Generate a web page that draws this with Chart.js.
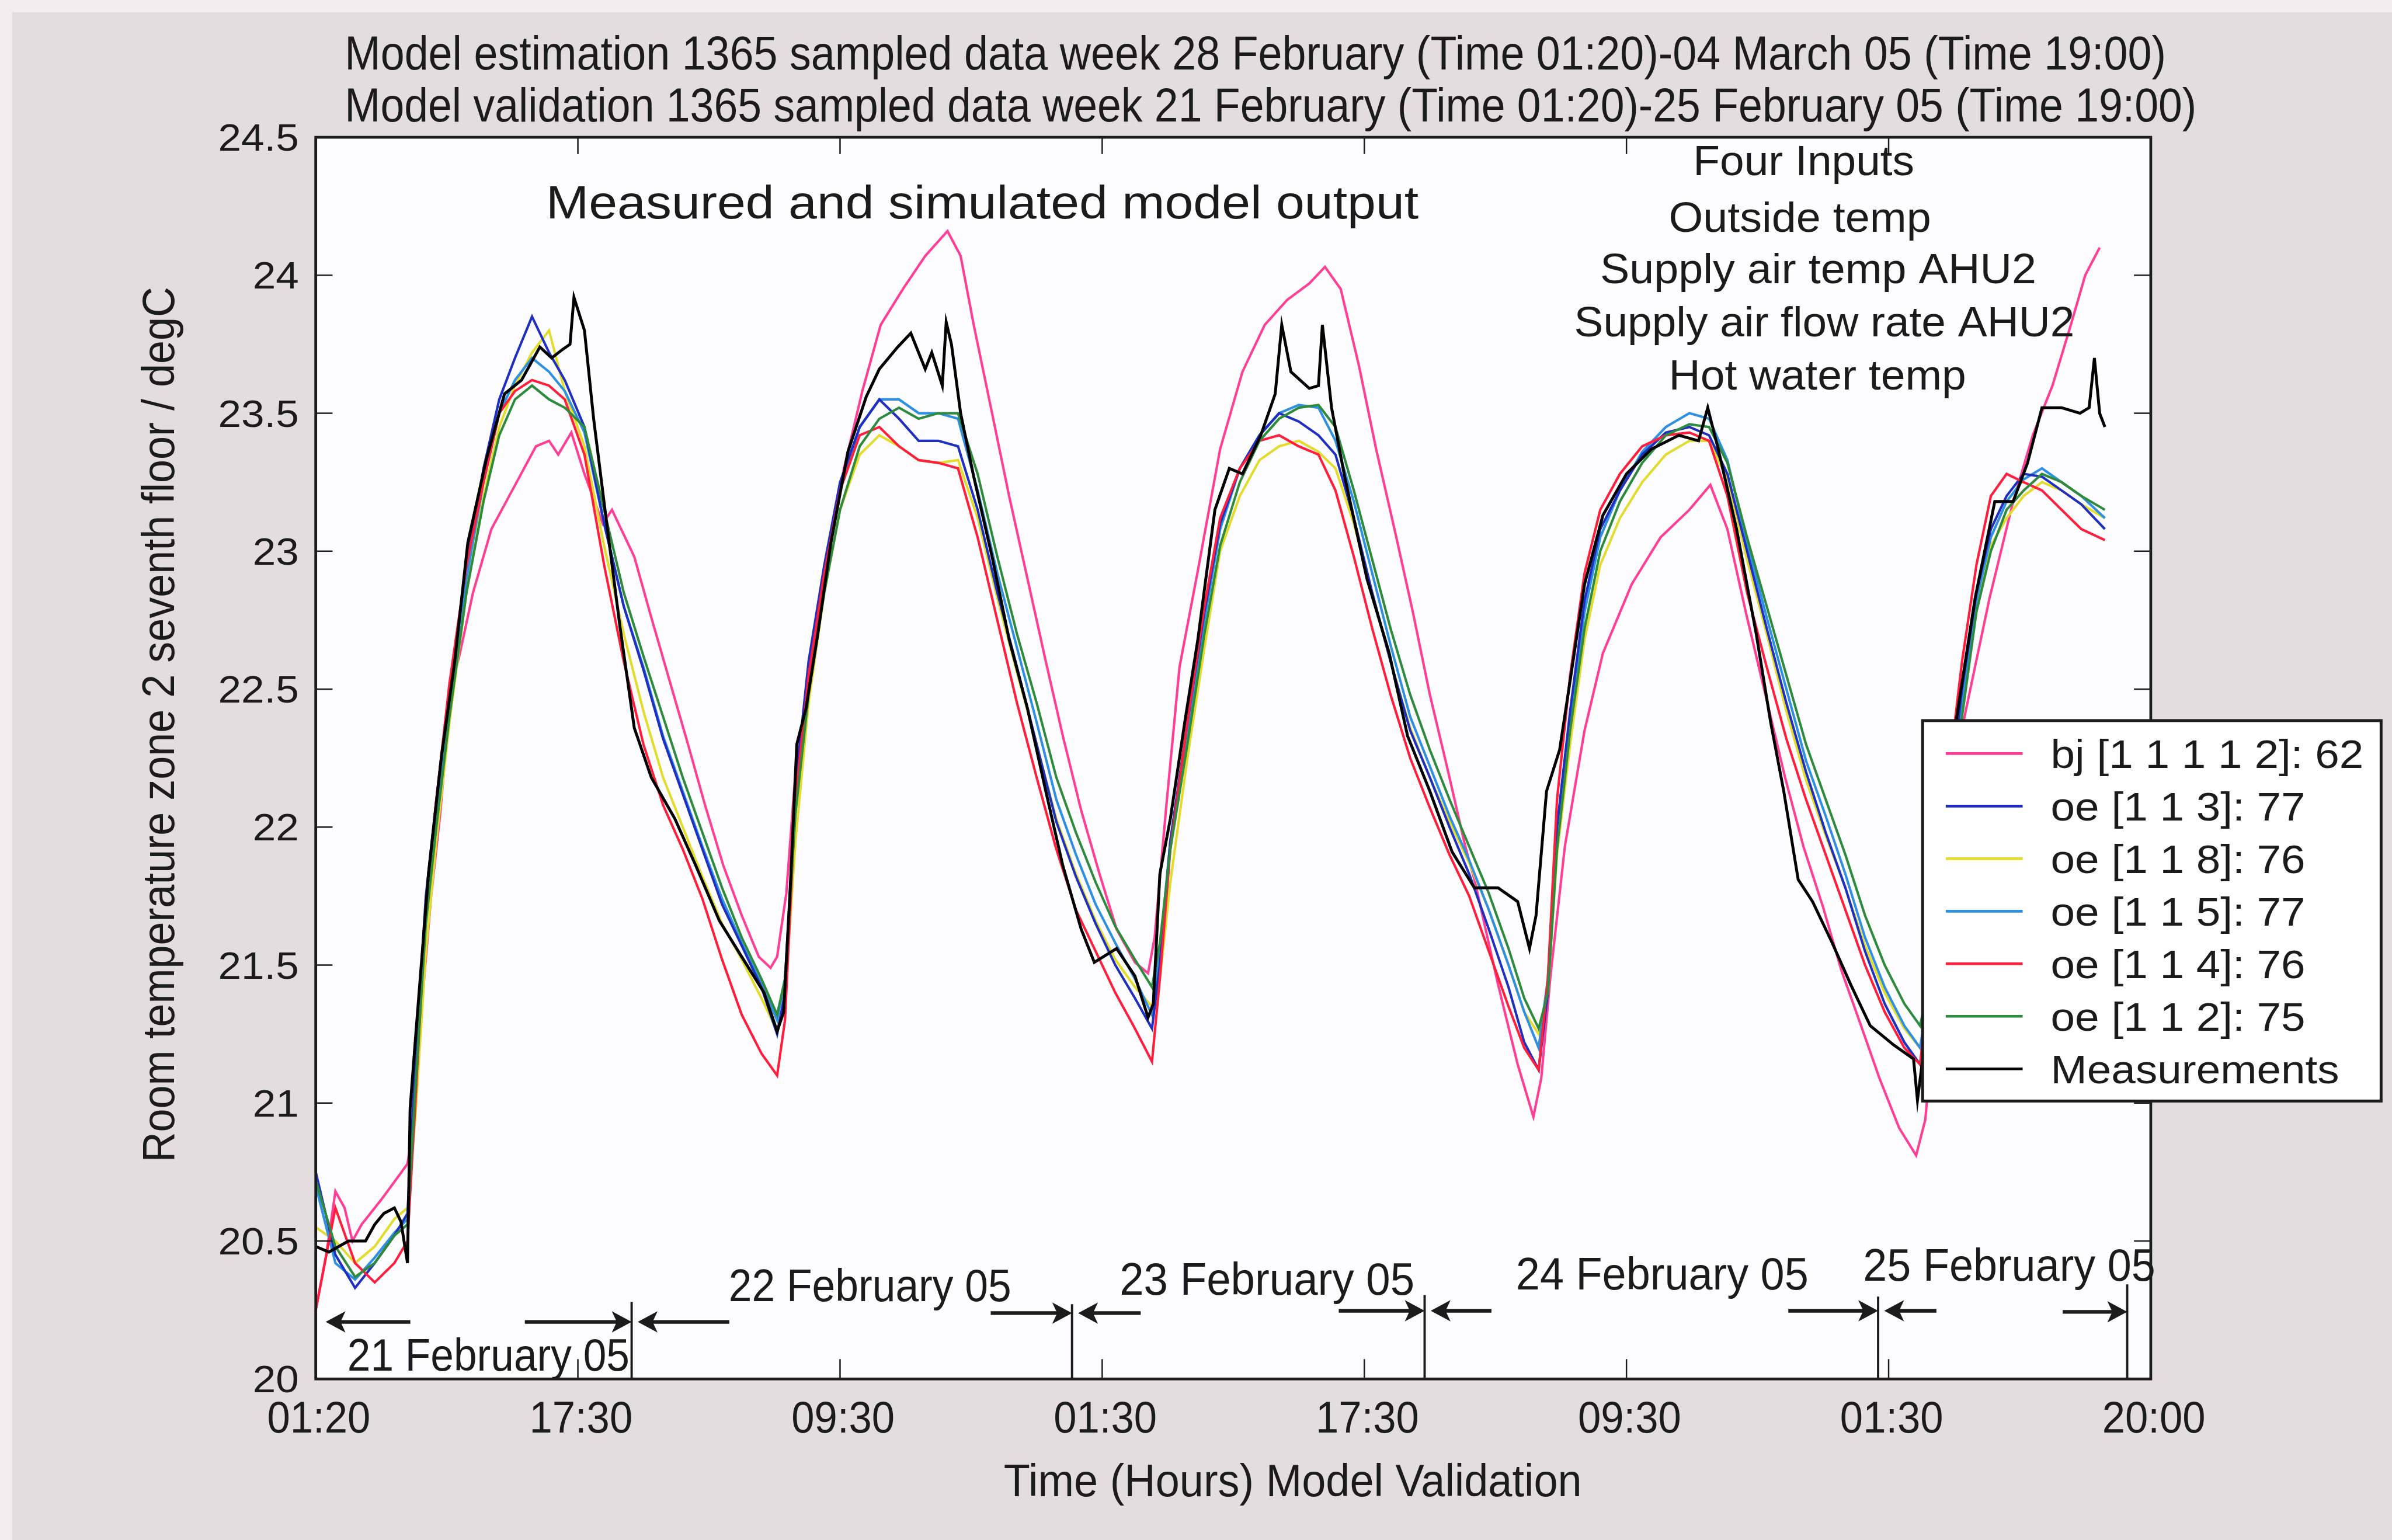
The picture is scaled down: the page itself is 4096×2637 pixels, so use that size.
<!DOCTYPE html>
<html>
<head>
<meta charset="utf-8">
<title>Measured and simulated model output</title>
<script src="https://cdn.jsdelivr.net/npm/chart.js@4.4.1/dist/chart.umd.min.js"></script>
<style>
html, body { margin: 0; padding: 0; background: #e4dde0; overflow: hidden; }
canvas { display: block; }
</style>
</head>
<body>
<canvas id="myChart" width="4096" height="2637"></canvas>
<script>
// sample index (5 minute steps) shared by the oe model outputs
const steps = [0, 15, 30, 45, 60, 70, 76, 84, 92, 102,
	115, 128, 140, 152, 165, 178, 190, 205, 220, 235,
	250, 265, 280, 295, 310, 325, 340, 352, 358, 366,
	376, 388, 400, 415, 430, 445, 460, 475, 490, 505,
	520, 535, 550, 565, 580, 595, 610, 625, 638, 644,
	652, 665, 678, 690, 705, 720, 735, 750, 765, 778,
	792, 806, 820, 835, 850, 865, 880, 895, 910, 922,
	933, 940, 947, 957, 968, 980, 995, 1012, 1030, 1048,
	1063, 1077, 1092, 1107, 1122, 1137, 1152, 1167, 1182, 1197,
	1212, 1224, 1234, 1246, 1256, 1267, 1278, 1290, 1303, 1317,
	1332, 1347, 1365];

const oe113 = [20.75, 20.45, 20.33, 20.42, 20.52, 20.6, 21.15, 21.75, 22.1, 22.5,
	22.95, 23.3, 23.55, 23.7, 23.85, 23.72, 23.62, 23.45, 23.1, 22.8,
	22.57, 22.32, 22.12, 21.92, 21.72, 21.57, 21.42, 21.25, 21.4, 22.15,
	22.6, 22.95, 23.25, 23.45, 23.55, 23.48, 23.4, 23.4, 23.38, 23.15,
	22.85, 22.58, 22.3, 22.02, 21.82, 21.65, 21.5, 21.38, 21.27, 21.5,
	21.95, 22.38, 22.78, 23.1, 23.3, 23.42, 23.5, 23.47, 23.42, 23.35,
	23.12, 22.85, 22.6, 22.35, 22.18, 22.0, 21.83, 21.63, 21.42, 21.22,
	21.12, 21.4, 22.0, 22.42, 22.82, 23.08, 23.22, 23.35, 23.43, 23.45,
	23.42, 23.28, 23.0, 22.72, 22.45, 22.2, 21.98, 21.78, 21.55, 21.36,
	21.22, 21.14, 21.5, 22.1, 22.5, 22.85, 23.08, 23.2, 23.28, 23.27,
	23.22, 23.17, 23.08];

const oe118 = [20.55, 20.5, 20.42, 20.48, 20.58, 20.62, 20.95, 21.55, 21.95, 22.38,
	22.85, 23.2, 23.45, 23.6, 23.72, 23.8, 23.58, 23.38, 23.02, 22.7,
	22.42, 22.18, 22.0, 21.82, 21.65, 21.52, 21.38, 21.26, 21.38, 21.95,
	22.45, 22.85, 23.15, 23.35, 23.42, 23.38, 23.33, 23.32, 23.33, 23.12,
	22.83, 22.56, 22.3, 22.03, 21.83, 21.66, 21.52, 21.42, 21.35, 21.45,
	21.8, 22.25, 22.65, 23.0, 23.2, 23.33, 23.38, 23.4, 23.36, 23.3,
	23.1, 22.85, 22.6, 22.36, 22.18, 22.02, 21.87, 21.7, 21.5, 21.33,
	21.25, 21.4, 21.9, 22.3, 22.68, 22.95, 23.12, 23.25, 23.35, 23.4,
	23.4, 23.26, 22.97, 22.7, 22.42, 22.17, 21.97, 21.78, 21.57, 21.4,
	21.27, 21.2, 21.45, 22.0, 22.42, 22.8, 23.02, 23.12, 23.2, 23.25,
	23.22, 23.17, 23.12];

const oe115 = [20.7, 20.42, 20.36, 20.44, 20.53, 20.58, 21.1, 21.7, 22.05, 22.45,
	22.9, 23.25, 23.5, 23.62, 23.7, 23.65, 23.58, 23.43, 23.1, 22.8,
	22.58, 22.33, 22.13, 21.93, 21.74, 21.58, 21.43, 21.3, 21.45, 22.1,
	22.55, 22.92, 23.22, 23.45, 23.55, 23.55, 23.5, 23.5, 23.48, 23.22,
	22.92, 22.65, 22.38, 22.1, 21.9, 21.72, 21.58, 21.45, 21.32, 21.55,
	21.95, 22.35, 22.75, 23.08, 23.3, 23.42, 23.5, 23.53, 23.52, 23.4,
	23.18, 22.92, 22.66, 22.4, 22.22, 22.04, 21.88, 21.7, 21.5, 21.33,
	21.2, 21.45, 22.0, 22.4, 22.78, 23.05, 23.22, 23.36, 23.45, 23.5,
	23.48, 23.33, 23.03, 22.76, 22.5, 22.24, 22.04, 21.83, 21.6, 21.42,
	21.28, 21.2, 21.5, 22.05, 22.45, 22.82, 23.05, 23.18, 23.26, 23.3,
	23.25, 23.2, 23.12];

const oe114 = [20.25, 20.62, 20.42, 20.35, 20.42, 20.5, 21.0, 21.72, 22.1, 22.52,
	22.95, 23.25, 23.5, 23.58, 23.62, 23.6, 23.55, 23.35, 22.95, 22.6,
	22.3, 22.08, 21.92, 21.74, 21.52, 21.32, 21.18, 21.1, 21.3, 22.1,
	22.55, 22.92, 23.22, 23.42, 23.45, 23.38, 23.33, 23.32, 23.3, 23.05,
	22.75, 22.45, 22.18, 21.92, 21.7, 21.55, 21.4, 21.27, 21.15, 21.45,
	21.92, 22.38, 22.8, 23.12, 23.3, 23.4, 23.42, 23.38, 23.35, 23.22,
	22.98, 22.72, 22.48, 22.25, 22.07, 21.9, 21.75, 21.55, 21.35, 21.2,
	21.12, 21.45, 22.1, 22.55, 22.92, 23.15, 23.28, 23.38, 23.42, 23.43,
	23.4, 23.2, 22.85, 22.58, 22.32, 22.1, 21.9, 21.7, 21.5, 21.33,
	21.2, 21.14, 21.55, 22.2, 22.6, 22.95, 23.2, 23.28, 23.25, 23.22,
	23.15, 23.08, 23.04];

const oe112 = [20.72, 20.48, 20.37, 20.42, 20.52, 20.56, 21.05, 21.65, 22.0, 22.4,
	22.85, 23.18, 23.42, 23.55, 23.6, 23.55, 23.52, 23.45, 23.15, 22.85,
	22.62, 22.4, 22.18, 21.98, 21.78, 21.6, 21.45, 21.32, 21.45, 22.05,
	22.48, 22.85, 23.15, 23.38, 23.48, 23.52, 23.48, 23.5, 23.5, 23.28,
	22.98, 22.7, 22.45, 22.18, 21.98, 21.8, 21.64, 21.52, 21.42, 21.58,
	21.92, 22.3, 22.7, 23.02, 23.25, 23.4, 23.48, 23.52, 23.53, 23.45,
	23.22, 22.97, 22.72, 22.48, 22.28, 22.1, 21.93, 21.76, 21.56, 21.38,
	21.27, 21.4, 21.92, 22.35, 22.72, 23.0, 23.18, 23.32, 23.42, 23.46,
	23.45, 23.32, 23.05, 22.8, 22.55, 22.3, 22.1, 21.9, 21.68, 21.5,
	21.36, 21.28, 21.5, 22.0, 22.4, 22.78, 23.0, 23.15, 23.22, 23.28,
	23.25, 23.2, 23.15];

// bj model output
const bjSteps = [0, 8, 15, 22, 28, 35, 50, 64, 70, 74,
	80, 88, 95, 103, 110, 120, 134, 151, 168, 178,
	185, 195, 205, 219, 226, 243, 256, 270, 284, 297,
	311, 325, 338, 347, 352, 359, 366, 383, 403, 417,
	431, 448, 465, 482, 492, 502, 516, 529, 543, 557,
	570, 584, 598, 611, 625, 635, 640, 649, 659, 673,
	690, 707, 724, 741, 758, 770, 782, 796, 809, 823,
	837, 850, 864, 877, 884, 902, 917, 929, 935, 942,
	953, 968, 982, 1004, 1026, 1048, 1064, 1077, 1091, 1106,
	1121, 1135, 1150, 1164, 1179, 1193, 1208, 1221, 1228, 1240,
	1257, 1277, 1295, 1310, 1325, 1339, 1350, 1361];
const bjOut = [20.25, 20.45, 20.68, 20.62, 20.5, 20.56, 20.65, 20.74, 20.78, 20.9,
	21.3, 21.75, 22.05, 22.5, 22.63, 22.85, 23.08, 23.23, 23.38, 23.4,
	23.35, 23.43, 23.28, 23.1, 23.15, 22.98, 22.76, 22.53, 22.3, 22.08,
	21.86, 21.68, 21.53, 21.49, 21.53, 21.76, 22.2, 22.75, 23.3, 23.58,
	23.82, 23.95, 24.07, 24.16, 24.07, 23.82, 23.5, 23.2, 22.9, 22.6,
	22.33, 22.06, 21.83, 21.63, 21.51, 21.47, 21.6, 22.08, 22.58, 22.93,
	23.37, 23.65, 23.82, 23.91, 23.97, 24.03, 23.95, 23.67, 23.37, 23.08,
	22.78, 22.48, 22.2, 21.93, 21.81, 21.43, 21.14, 20.95, 21.09, 21.46,
	21.93, 22.35, 22.63, 22.88, 23.05, 23.15, 23.24, 23.08, 22.78, 22.48,
	22.18, 21.93, 21.71, 21.48, 21.28, 21.09, 20.91, 20.81, 20.94, 21.6,
	22.38, 22.83, 23.18, 23.42, 23.6, 23.82, 24.0, 24.1];

// room temperature as measured
const measSteps = [0, 10, 25, 38, 45, 52, 60, 65, 70, 72,
	76, 86, 96, 106, 116, 130, 144, 157, 171, 180,
	188, 194, 197, 205, 212, 222, 232, 243, 256, 274,
	290, 308, 325, 342, 352, 357, 362, 367, 374, 383,
	393, 406, 420, 430, 444, 454, 465, 470, 478, 481,
	485, 492, 502, 516, 529, 543, 557, 570, 584, 594,
	611, 625, 635, 639, 644, 652, 663, 673, 686, 697,
	707, 721, 732, 737, 744, 758, 765, 768, 775, 785,
	802, 819, 833, 850, 867, 884, 902, 917, 926, 931,
	939, 949, 957, 968, 982, 1000, 1019, 1040, 1055, 1062,
	1070, 1084, 1099, 1110, 1120, 1131, 1142, 1157, 1171, 1186,
	1204, 1219, 1222, 1226, 1240, 1252, 1266, 1281, 1295, 1306,
	1317, 1332, 1346, 1353, 1357, 1361, 1365];
const measured = [20.48, 20.46, 20.5, 20.5, 20.56, 20.6, 20.62, 20.57, 20.42, 20.98,
	21.23, 21.83, 22.26, 22.6, 23.03, 23.33, 23.57, 23.62, 23.74, 23.7,
	23.73, 23.75, 23.92, 23.8, 23.48, 23.1, 22.73, 22.36, 22.18, 22.03,
	21.86, 21.66, 21.53, 21.4, 21.26, 21.33, 21.78, 22.3, 22.43, 22.7,
	23.03, 23.36, 23.56, 23.66, 23.74, 23.79, 23.66, 23.72, 23.6, 23.83,
	23.75, 23.5, 23.27, 22.98, 22.68, 22.43, 22.13, 21.86, 21.63, 21.51,
	21.56, 21.46, 21.31, 21.36, 21.83, 22.03, 22.38, 22.68, 23.15, 23.3,
	23.28, 23.42, 23.57, 23.82, 23.65, 23.59, 23.6, 23.82, 23.52, 23.27,
	22.9, 22.63, 22.33, 22.13, 21.91, 21.78, 21.78, 21.73, 21.56, 21.68,
	22.13, 22.28, 22.53, 22.88, 23.13, 23.28, 23.37, 23.42, 23.4, 23.52,
	23.37, 23.08, 22.7, 22.38, 22.13, 21.81, 21.73, 21.58, 21.43, 21.28,
	21.21, 21.16, 21.01, 21.16, 21.7, 22.4, 22.83, 23.18, 23.18, 23.32,
	23.52, 23.52, 23.5, 23.52, 23.7, 23.5, 23.45];

const xTicks = [0, 200, 400, 600, 800, 1000, 1200, 1400];
const xTickLabels = ['01:20', '17:30', '09:30', '01:30', '17:30', '09:30', '01:30', '20:00'];
const yTicks = [20, 20.5, 21, 21.5, 22, 22.5, 23, 23.5, 24, 24.5];
const yTickLabels = ['20', '20.5', '21', '21.5', '22', '22.5', '23', '23.5', '24', '24.5'];

const dayLabels = ['21 February 05', '22 February 05', '23 February 05', '24 February 05', '25 February 05'];
const dayEdges = [241, 577, 846, 1192, 1382];

const seriesNames = ['bj [1 1 1 1 2]: 62', 'oe [1 1 3]: 77', 'oe [1 1 8]: 76', 'oe [1 1 5]: 77',
	'oe [1 1 4]: 76', 'oe [1 1 2]: 75', 'Measurements'];
const seriesColors = ['#ff3f96', '#1f2fbf', '#e3dc2c', '#2f8fe0', '#ff1e3c', '#2e8b3e', '#000000'];

const inputNames = ['Four Inputs', 'Outside temp', 'Supply air temp AHU2', 'Supply air flow rate AHU2', 'Hot water temp'];

// layout unit
const u = 2.612;
const ink = '#1b1b1b';

function pts(xs, ys) {
	return xs.map((x, i) => ({ x: x, y: ys[i] }));
}

function drawText(ctx, str, x, y, size, opt) {
	opt = opt || {};
	ctx.font = size + 'px "Liberation Sans", Arial, sans-serif';
	const sx = opt.width ? opt.width / ctx.measureText(str).width : (opt.sx || 1);
	ctx.save();
	ctx.translate(x, y);
	if (opt.rotate) ctx.rotate(opt.rotate);
	ctx.scale(sx, 1);
	ctx.textAlign = opt.align || 'left';
	ctx.textBaseline = 'alphabetic';
	ctx.fillStyle = ink;
	ctx.fillText(str, 0, 0);
	ctx.restore();
}

function seg(ctx, x1, y1, x2, y2) {
	ctx.beginPath();
	ctx.moveTo(x1, y1);
	ctx.lineTo(x2, y2);
	ctx.stroke();
}

function arrow(ctx, tail, tip, y) {
	const dir = tip > tail ? 1 : -1;
	const hl = 13 * u, hw = 7 * u;
	ctx.lineWidth = 2.4 * u;
	seg(ctx, tail, y, tip - dir * hl * 0.5, y);
	ctx.beginPath();
	ctx.moveTo(tip, y);
	ctx.lineTo(tip - dir * hl, y - hw);
	ctx.lineTo(tip - dir * hl * 0.75, y);
	ctx.lineTo(tip - dir * hl, y + hw);
	ctx.closePath();
	ctx.fill();
}

const frame = {
	id: 'frame',
	beforeDraw(chart) {
		const ctx = chart.ctx, a = chart.chartArea;
		ctx.save();
		ctx.fillStyle = '#e4dde0';
		ctx.fillRect(0, 0, chart.width, chart.height);
		ctx.fillStyle = '#f2eef0';
		ctx.fillRect(0, 0, chart.width, 8 * u);
		ctx.fillRect(0, 0, 8 * u, chart.height);
		ctx.fillStyle = '#fdfcfe';
		ctx.fillRect(a.left, a.top, a.right - a.left, a.bottom - a.top);
		ctx.restore();
	},
	afterDraw(chart) {
		const ctx = chart.ctx, a = chart.chartArea;
		const x = chart.scales.x, y = chart.scales.y;
		ctx.save();
		ctx.strokeStyle = ink;
		ctx.fillStyle = ink;

		// ticks on all four sides, pointing inwards
		ctx.lineWidth = 2.5;
		yTicks.slice(1, -1).forEach(v => {
			const py = y.getPixelForValue(v);
			seg(ctx, a.left, py, a.left + 11 * u, py);
			seg(ctx, a.right, py, a.right - 11 * u, py);
		});
		xTicks.slice(1, -1).forEach(v => {
			const px = x.getPixelForValue(v);
			seg(ctx, px, a.top, px, a.top + 11 * u);
			seg(ctx, px, a.bottom, px, a.bottom - 13 * u);
		});

		// day boundaries with arrows either side
		const rowY = [866.6, 860.8, 859.3, 859.3, 860];
		const lineTop = [853.5, 855, 849, 850, 842];
		const backLen = [70, 53.3, 56.3, 58.9, 42.3];
		const nextLen = [60, 41, 39.8, 34.2];
		ctx.lineWidth = 1.5 * u;
		dayEdges.forEach((d, i) => {
			const px = x.getPixelForValue(d);
			seg(ctx, px, lineTop[i] * u, px, a.bottom);
		});
		arrow(ctx, a.left + 62 * u, a.left + 6.5 * u, rowY[0] * u);
		dayEdges.forEach((d, i) => {
			const px = x.getPixelForValue(d);
			arrow(ctx, px - backLen[i] * u, px, rowY[i] * u);
			if (i < nextLen.length) arrow(ctx, px + (4 + nextLen[i]) * u, px + 4 * u, rowY[i] * u);
		});
		const dayPos = [[227.7, 898.6, 185], [477.7, 852.8, 185.3], [734, 848.7, 193.3], [993.8, 845.5, 191.8], [1221.4, 839.7, 191.6]];
		dayLabels.forEach((t, i) => {
			drawText(ctx, t, dayPos[i][0] * u, dayPos[i][1] * u, 30 * u, { width: dayPos[i][2] * u });
		});

		// plot frame
		ctx.lineWidth = 1.8 * u;
		ctx.strokeRect(a.left, a.top, a.right - a.left, a.bottom - a.top);

		// tick labels
		yTicks.forEach((v, i) => {
			drawText(ctx, yTickLabels[i], 196 * u, y.getPixelForValue(v) + 8.8 * u, 25 * u, { sx: 1.09, align: 'right' });
		});
		xTicks.forEach((v, i) => {
			drawText(ctx, xTickLabels[i], x.getPixelForValue(v) + 2 * u, 939 * u, 29.4 * u, { sx: 0.92, align: 'center' });
		});

		// titles
		drawText(ctx, 'Model estimation 1365 sampled data week 28 February (Time 01:20)-04 March 05 (Time 19:00)',
			226 * u, 45.4 * u, 31 * u, { width: 1194 * u });
		drawText(ctx, 'Model validation 1365 sampled data week 21 February (Time 01:20)-25 February 05 (Time 19:00)',
			226 * u, 79.7 * u, 31 * u, { width: 1214 * u });
		drawText(ctx, 'Measured and simulated model output', 358 * u, 143 * u, 30.5 * u, { width: 572 * u });
		drawText(ctx, 'Time (Hours) Model Validation', 658 * u, 980.7 * u, 29.5 * u, { width: 379 * u });
		drawText(ctx, 'Room temperature zone 2 seventh floor / degC', 114 * u, 475 * u, 29.5 * u,
			{ width: 574 * u, rotate: -Math.PI / 2, align: 'center' });

		const inputPos = [[1110, 115, 145], [1094, 151.8, 172], [1049, 185.5, 286], [1032, 220.6, 328], [1094, 255.2, 195]];
		inputNames.forEach((t, i) => {
			drawText(ctx, t, inputPos[i][0] * u, inputPos[i][1] * u, 28 * u, { width: inputPos[i][2] * u });
		});

		// legend
		const lx = 1260.4 * u, ly = 472.4 * u, lr = 1561 * u, lb = 721.8 * u;
		ctx.fillStyle = '#ffffff';
		ctx.fillRect(lx, ly, lr - lx, lb - ly);
		ctx.lineWidth = 1.9 * u;
		ctx.strokeStyle = ink;
		ctx.strokeRect(lx, ly, lr - lx, lb - ly);
		seriesNames.forEach((name, i) => {
			const cy = (494 + 34.45 * i) * u;
			ctx.strokeStyle = seriesColors[i];
			ctx.lineWidth = 1.8 * u;
			seg(ctx, 1275.6 * u, cy, 1326 * u, cy);
			drawText(ctx, name, 1344.4 * u, cy + 9.3 * u, 26 * u, { sx: 1.1 });
		});
		ctx.restore();
	}
};

const seriesData = [pts(bjSteps, bjOut), pts(steps, oe113), pts(steps, oe118), pts(steps, oe115),
	pts(steps, oe114), pts(steps, oe112), pts(measSteps, measured)];
const drawOrder = [7, 4, 6, 5, 3, 2, 1];

const datasets = seriesNames.map((name, i) => ({
	label: name,
	data: seriesData[i],
	borderColor: seriesColors[i],
	borderWidth: i == 6 ? 1.9 * u : 1.6 * u,
	pointRadius: 0,
	fill: false,
	tension: 0,
	order: drawOrder[i]
}));

const hidden = {
	ticks: { display: false },
	grid: { display: false, drawTicks: false },
	border: { display: false }
};

new Chart(document.getElementById('myChart'), {
	type: 'line',
	data: { datasets: datasets },
	options: {
		responsive: false,
		animation: false,
		devicePixelRatio: 1,
		layout: { padding: { left: 207 * u, right: 4096 - 1410 * u, top: 90 * u, bottom: 2637 - 904 * u } },
		plugins: { legend: { display: false }, tooltip: { enabled: false } },
		scales: {
			x: Object.assign({ type: 'linear', min: 0, max: 1400, afterFit: s => { s.height = 0; } }, hidden),
			y: Object.assign({ type: 'linear', min: 20, max: 24.5, afterFit: s => { s.width = 0; } }, hidden)
		}
	},
	plugins: [frame]
});
</script>
</body>
</html>
